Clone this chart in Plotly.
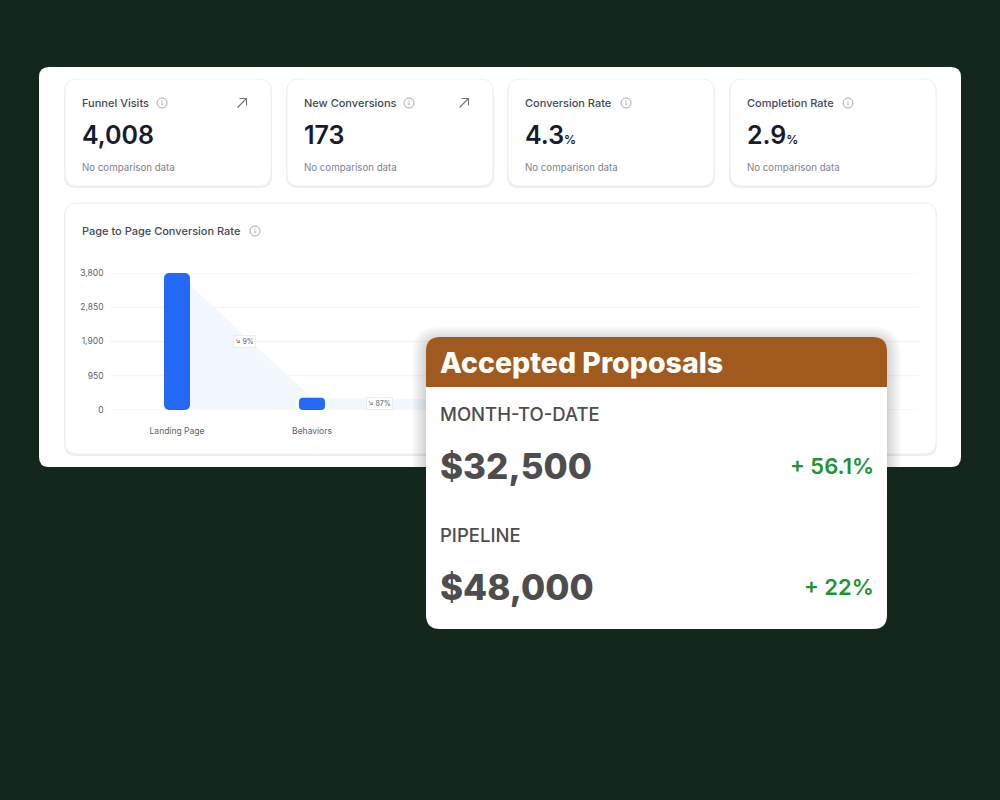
import plotly.graph_objects as go

# KPI cards
kpi_titles = ["Funnel Visits", "New Conversions", "Conversion Rate", "Completion Rate"]
kpi_values = ["4,008", "173", "4.3", "2.9"]
kpi_units = ["", "", "%", "%"]
kpi_note = "No comparison data"

# funnel chart (third step sits behind the popup, its label can't be read)
chart_title = "Page to Page Conversion Rate"
categories = ["Landing Page", "Behaviors", ""]
visits = [3800, 340, 296]
step_rates = ["↘ 9%", "↘ 87%"]
y_ticks = [0, 950, 1900, 2850, 3800]

# popup
popup_title = "Accepted Proposals"
popup_labels = ["MONTH-TO-DATE", "PIPELINE"]
popup_amounts = ["$32,500", "$48,000"]
popup_changes = ["+ 56.1%", "+ 22%"]

W, H = 1000, 800
BAR_W = 26 / 135
INTER = "Inter"
POP = "Inter"


def px(x):
    return x / W


def py(y):
    return 1 - y / H


def rrect(x0, y0, x1, y1, r=0, fill=None, line=None, lw=1, layer="below", top_only=False):
    # rounded box in page pixels
    xa, xb, ya, yb = px(x0), px(x1), py(y0), py(y1)
    rx, ry = r / W, r / H
    d = f"M{xa + rx},{ya} L{xb - rx},{ya} Q{xb},{ya} {xb},{ya - ry} "
    if top_only:
        d += f"L{xb},{yb} L{xa},{yb} "
    else:
        d += f"L{xb},{yb + ry} Q{xb},{yb} {xb - rx},{yb} L{xa + rx},{yb} Q{xa},{yb} {xa},{yb + ry} "
    d += f"L{xa},{ya - ry} Q{xa},{ya} {xa + rx},{ya} Z"
    return dict(
        type="path", path=d, xref="paper", yref="paper", layer=layer,
        fillcolor=fill or "rgba(0,0,0,0)",
        line=dict(color=line or "rgba(0,0,0,0)", width=lw if line else 0),
    )


def label(x, y, text, size, color, weight=400, family=INTER, anchor="left"):
    # annotations carry a small inner pad, take it back out
    x = x - 2 if anchor == "left" else x + 3
    return dict(
        x=px(x), y=py(y), xref="paper", yref="paper", text=text, showarrow=False,
        xanchor=anchor, yanchor="middle",
        font=dict(family=family, size=size, color=color, weight=weight),
    )


def info_icon(cx, cy):
    c = "#a7abb3"
    return [
        dict(type="circle", xref="paper", yref="paper", layer="below",
             x0=px(cx - 5), x1=px(cx + 5), y0=py(cy + 5), y1=py(cy - 5),
             line=dict(color=c, width=1), fillcolor="rgba(0,0,0,0)"),
        dict(type="line", xref="paper", yref="paper", layer="below",
             x0=px(cx), x1=px(cx), y0=py(cy + 2.5), y1=py(cy - 0.5),
             line=dict(color=c, width=1)),
        dict(type="line", xref="paper", yref="paper", layer="below",
             x0=px(cx), x1=px(cx), y0=py(cy - 1.5), y1=py(cy - 2.5),
             line=dict(color=c, width=1)),
    ]


def arrow_icon(cx, cy):
    c = "#6f747e"
    d = (f"M{px(cx - 4.5)},{py(cy + 4.5)} L{px(cx + 4.5)},{py(cy - 4.5)} "
         f"M{px(cx - 2.5)},{py(cy - 4.5)} L{px(cx + 4.5)},{py(cy - 4.5)} L{px(cx + 4.5)},{py(cy + 2.5)}")
    return dict(type="path", path=d, xref="paper", yref="paper", layer="below",
                line=dict(color=c, width=1.1))


fig = go.Figure()

# pale funnel bands, centre of one bar to centre of the next
for i in range(len(visits) - 1):
    fig.add_trace(go.Scatter(
        x=[i, i + 1, i + 1, i],
        y=[visits[i], visits[i + 1], 0, 0],
        mode="none", fill="toself", fillcolor="#f3f7fe", hoverinfo="skip",
    ))

# bars go on an overlaid axis pair, otherwise the scatter fills paint over them
# two overlapping parts so both ends of the bar get rounded corners
x_pos = list(range(len(visits)))
fig.add_trace(go.Bar(
    x=x_pos, y=[v * 0.75 for v in visits], base=[v * 0.25 for v in visits], width=BAR_W,
    marker=dict(color="#2369f6", cornerradius=5, line_width=0), hoverinfo="skip",
    xaxis="x2", yaxis="y2",
))
fig.add_trace(go.Bar(
    x=x_pos, y=[-v * 0.75 for v in visits], base=[v * 0.75 for v in visits], width=BAR_W,
    marker=dict(color="#2369f6", cornerradius=5, line_width=0), hoverinfo="skip",
    xaxis="x2", yaxis="y2",
))

shapes = []
annotations = []

# main panel
shapes.append(rrect(39, 67, 961, 467, 10, fill="#ffffff"))

# KPI cards
card_x = [65, 287, 508, 730]
info_x = [162, 409, 626, 848]
for i, x0 in enumerate(card_x):
    shapes.append(rrect(x0 - 1, 80, x0 + 207, 188, 12, fill="#eceef1"))
    shapes.append(rrect(x0, 79, x0 + 206, 186, 12, fill="#ffffff", line="#eef0f3"))
    shapes += info_icon(info_x[i], 103)
    annotations.append(label(x0 + 17, 103, kpi_titles[i], 11, "#434955", 500))
    unit = f"<span style='font-size:12px'>{kpi_units[i]}</span>" if kpi_units[i] else ""
    annotations.append(label(x0 + 17, 135, kpi_values[i] + unit, 25, "#161c29", 600))
    annotations.append(label(x0 + 17, 167, kpi_note, 9.7, "#7d828c"))
shapes.append(arrow_icon(242, 103))
shapes.append(arrow_icon(464, 103))

# chart card
shapes.append(rrect(64, 204, 937, 456, 12, fill="#eceef1"))
shapes.append(rrect(65, 203, 936, 454, 12, fill="#ffffff", line="#eef0f3"))
shapes += info_icon(255, 231)
annotations.append(label(82, 231, chart_title, 11, "#434955", 500))

# axis gridlines as shapes, the built-in ones kept dropping every other tick
for t in y_ticks:
    shapes.append(dict(type="line", xref="x domain", yref="y", x0=0, x1=1, y0=t, y1=t,
                       layer="below", line=dict(color="#f1f3f6", width=1)))

# step rate pills
for i, rate in enumerate(step_rates):
    annotations.append(dict(
        x=i + 0.5, y=visits[i] / 2, xref="x", yref="y", text=rate, showarrow=False,
        font=dict(family=INTER, size=7, color="#555a64"),
        bgcolor="#ffffff", bordercolor="#e9edf3", borderwidth=1, borderpad=1,
    ))

# popup sits above the chart, its soft shadow only shows on the white panel
for s in range(14, 0, -1):
    shapes.append(rrect(426 - s, 337 - s + 3, 887 + s, 467, 14 + s,
                        fill="rgba(0,0,0,0.012)", layer="above", top_only=True))
shapes.append(rrect(426, 337, 887, 629, 14, fill="#ffffff", layer="above"))
shapes.append(rrect(426, 337, 887, 387, 14, fill="#a05a1e", layer="above", top_only=True))
annotations.append(label(440, 362, popup_title, 28.5, "#ffffff", 800, POP))
for i, y0 in enumerate([414, 535]):
    annotations.append(label(440, y0, popup_labels[i], 18.5, "#4d4d4d", 500, POP))
    annotations.append(label(440, y0 + 52, popup_amounts[i], 35, "#4d4d4d", 800, POP))
    annotations.append(label(873, y0 + 52, popup_changes[i], 22, "#1f9433", 600, POP, anchor="right"))

x_domain = [px(109.5), px(919.5)]
y_domain = [py(410), py(273)]
fig.update_layout(
    width=W, height=H,
    margin=dict(l=0, r=0, t=0, b=0, autoexpand=False),
    paper_bgcolor="#14271c",
    plot_bgcolor="rgba(0,0,0,0)",
    showlegend=False,
    barmode="overlay",
    shapes=shapes,
    annotations=annotations,
    font=dict(family=INTER),
    xaxis=dict(
        domain=x_domain, range=[-0.5, 5.5],
        tickmode="array", tickvals=x_pos, ticktext=categories,
        showgrid=False, zeroline=False, showline=False, ticks="",
        ticklabelstandoff=14,
        tickfont=dict(size=8.5, color="#5d626c"),
    ),
    yaxis=dict(
        domain=y_domain, range=[0, 3800],
        tickmode="array", tickvals=y_ticks, tickformat=",",
        showgrid=False,
        zeroline=False, showline=False, ticks="",
        ticklabelstandoff=5,
        tickfont=dict(size=8.5, color="#5d626c"),
    ),
    xaxis2=dict(domain=x_domain, range=[-0.5, 5.5], overlaying="x", anchor="y2", visible=False),
    yaxis2=dict(domain=y_domain, range=[0, 3800], overlaying="y", anchor="x2", visible=False),
)

fig.write_html("out.html", config=dict(displayModeBar=False), post_script="document.body.style.margin='0';")
